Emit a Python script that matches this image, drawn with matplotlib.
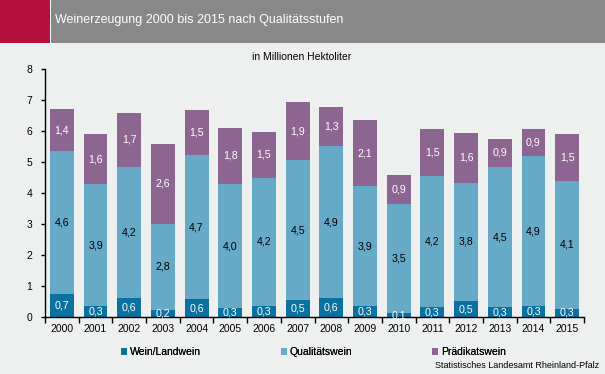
import matplotlib
matplotlib.use("Agg")
import matplotlib.pyplot as plt
from matplotlib.patches import Rectangle
import numpy as np

plt.rcParams['font.family'] = ['Liberation Sans', 'DejaVu Sans']

years = [str(y) for y in range(2000, 2016)]
wein_landwein = [0.74, 0.34, 0.60, 0.24, 0.57, 0.29, 0.34, 0.54, 0.60, 0.34, 0.12, 0.31, 0.51, 0.31, 0.34, 0.26]
qualitaetswein = [4.61, 3.94, 4.24, 2.76, 4.66, 4.00, 4.16, 4.53, 4.92, 3.88, 3.54, 4.24, 3.82, 4.53, 4.86, 4.14]
praedikatswein = [1.36, 1.62, 1.74, 2.59, 1.46, 1.82, 1.48, 1.86, 1.27, 2.14, 0.91, 1.52, 1.62, 0.91, 0.87, 1.49]
series_names = ["Wein/Landwein", "Qualitätswein", "Prädikatswein"]
yticks = [0, 1, 2, 3, 4, 5, 6, 7, 8]

colors = ["#0A71A0", "#66AAC8", "#8C6691"]
label_colors = ["white", "black", "white"]
bg = "#EEF0EF"

W, H = 605, 374
fig = plt.figure(figsize=(W/100, H/100), dpi=100, facecolor=bg)

# header band
hh = 43
fig.patches.append(Rectangle((0, 1 - hh/H), 1, hh/H, transform=fig.transFigure,
                             facecolor="#888888", edgecolor="none", zorder=0))
fig.patches.append(Rectangle((0, 1 - hh/H), 50/W, hh/H, transform=fig.transFigure,
                             facecolor="#B4123C", edgecolor="none", zorder=1))
fig.patches.append(Rectangle((50/W, 1 - hh/H), 1.2/W, hh/H, transform=fig.transFigure,
                             facecolor="white", edgecolor="none", zorder=2))
fig.text(55/W, 1 - 20/H, "Weinerzeugung 2000 bis 2015 nach Qualitätsstufen",
         color="white", fontsize=9, va="center", ha="left")
fig.text(302/W, 1 - 57/H, "in Millionen Hektoliter", fontsize=7.5, ha="center", va="center")

ax = fig.add_axes([45/W, (H-317)/H, (584-45)/W, (317-69)/H])
ax.set_facecolor(bg)
x = np.arange(len(years))
bottom = np.zeros(len(years))
data = [wein_landwein, qualitaetswein, praedikatswein]
bars = []
for vals, c, lc, name in zip(data, colors, label_colors, series_names):
    vals = np.array(vals)
    b = ax.bar(x, vals, bottom=bottom, width=0.71, color=c, label=name, zorder=2)
    bars.append(b)
    for xi, v, bt in zip(x, vals, bottom):
        ax.text(xi, bt + v/2, f"{v:.1f}".replace(".", ","), ha="center", va="center",
                color=lc, fontsize=7.7, zorder=3)
    bottom = bottom + vals

ax.set_xlim(-0.5, len(years) - 0.5)
ax.set_ylim(0, 8)
ax.set_yticks(yticks)
ax.set_yticklabels([str(t) for t in yticks], fontsize=7.5)
ax.set_xticks(x)
ax.set_xticklabels(years, fontsize=7.5)
ax.tick_params(axis='x', length=0, pad=5)
ax.set_xticks(np.arange(-0.5, len(years)), minor=True)
ax.tick_params(axis='x', which='minor', length=4, width=1, direction='out')
ax.tick_params(axis='y', length=3, width=1, direction='out', pad=6)
for s in ["top", "right"]:
    ax.spines[s].set_visible(False)
ax.spines["left"].set_linewidth(1)
ax.spines["bottom"].set_linewidth(1)

legend_x = [121, 281, 432]
for b, name, lx in zip(bars, series_names, legend_x):
    lg = fig.legend(handles=[b], labels=[name], loc="center left",
                    bbox_to_anchor=(lx/W, 1 - 352/H), frameon=False,
                    fontsize=7.5, handlelength=0.6, handleheight=0.6, handletextpad=0.25,
                    borderpad=0, borderaxespad=0)
    fig.add_artist(lg)
fig.text(599/W, 1 - 366/H, "Statistisches Landesamt Rheinland-Pfalz", fontsize=6.5,
         ha="right", va="center")

fig.savefig("out.png", dpi=100, facecolor=bg)
